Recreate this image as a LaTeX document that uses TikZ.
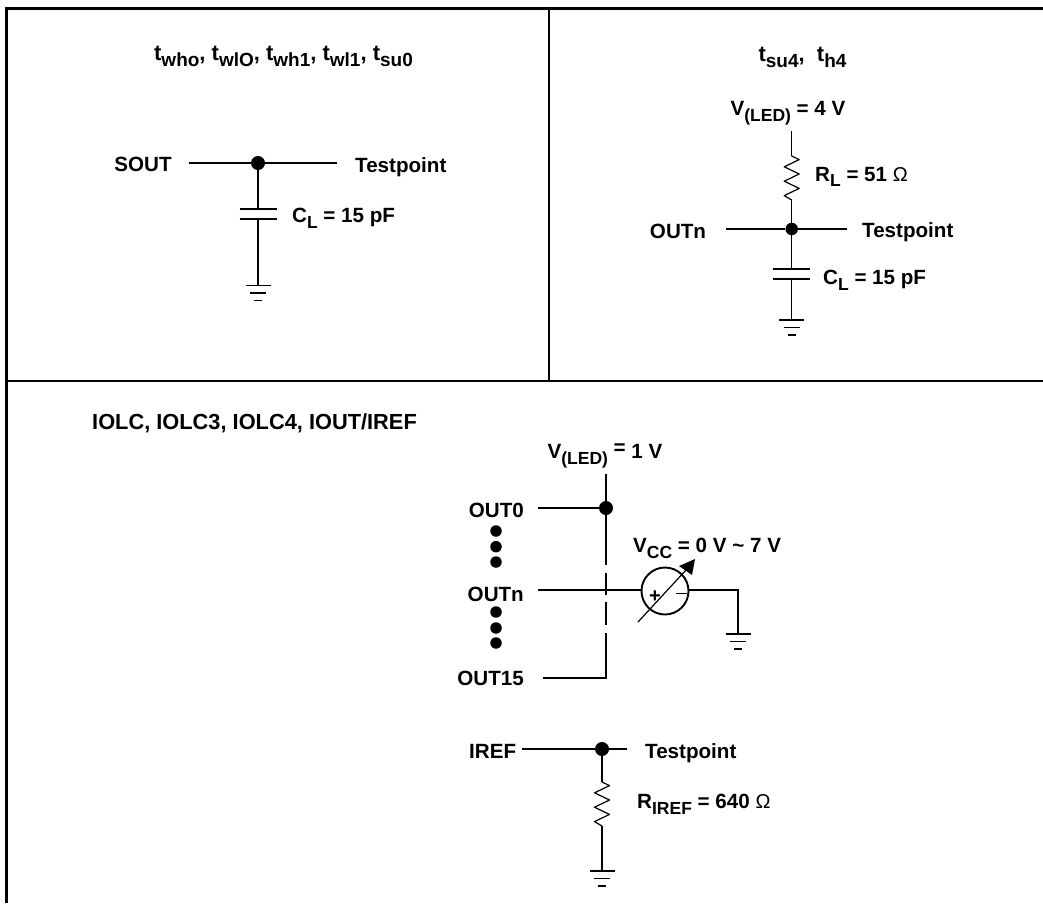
\documentclass[tikz,border=0pt]{standalone}
\usepackage{fontspec}
\setmainfont{Liberation Sans}[BoldFont=* Bold]
\newcommand{\sbx}[1]{\raisebox{-0.28em}{\fontsize{17.5}{18}\selectfont #1}}
\newcommand{\sby}[1]{\raisebox{-0.28em}{\fontsize{19}{20}\selectfont #1}}
\newcommand{\ohm}{{\mdseries\fontsize{20}{20}\selectfont Ω}}
\tikzset{
  x=1pt,y=-1pt,
  frameline/.style={line width=2.8pt,black},
  wire/.style={line width=1.2pt,black},
  lbl/.style={font=\fontsize{20.6}{22}\selectfont\bfseries,inner sep=0pt,text=black},
  ttl/.style={font=\fontsize{22}{24}\selectfont\bfseries,inner sep=0pt,text=black},
  dotnode/.style={circle,fill=black,inner sep=0pt,minimum size=14pt},
  smalldot/.style={circle,fill=black,inner sep=0pt,minimum size=11.5pt},
  vsource/.style={circle,draw=black,line width=1.9pt,fill=none,inner sep=0pt,minimum size=47pt},
  groundsym/.pic={
    \draw[line width=1.4pt] (-12.5,0) -- (12.5,0);
    \draw[line width=1.2pt] (-8,7.5) -- (8,7.5);
    \draw[line width=1.2pt] (-4,15) -- (4,15);
  },
  resistorsym/.pic={
    \draw[wire,line join=round] (0,0) -- (7.5,3.6) -- (-7.5,10.8) -- (7.5,18) -- (-7.5,25.2) -- (7.5,32.4) -- (-7.5,39.6) -- (0,44);
  },
}
\begin{document}
\begin{tikzpicture}
\useasboundingbox (0,0) rectangle (1043,903);
% frame
\coordinate (ftl) at (6.5,8.5);
\coordinate (ftr) at (1043,8.5);
\coordinate (fbl) at (6.5,903);
\coordinate (divt) at (549,8.5);
\coordinate (divb) at (549,381);
\coordinate (hl) at (6.5,381);
\coordinate (hr) at (1043,381);
\draw[frameline] (fbl) -- (ftl) -- (ftr);
\draw[frameline] (divt) -- (divb);
\draw[frameline] (hl) -- (hr);

% panel 1
\node[ttl] (t1) at (283.5,56) {t\sby{who}, t\sby{wlO}, t\sby{wh1}, t\sby{wl1}, t\sby{su0}};
\node[lbl,anchor=center] (sout) at (143,164.5) {SOUT};
\node[lbl,anchor=west] (tp1) at (355,167.5) {Testpoint};
\node[lbl,anchor=west] (cl1) at (292,218) {C\sbx{L} = 15 pF};
\node[dotnode] (j1) at (258,163) {};
\coordinate (s1) at (189,163);
\coordinate (e1) at (337,163);
\coordinate (c1a) at (258,209);
\coordinate (c1b) at (258,219);
\coordinate (g1) at (258,285.5);
\draw[wire] (s1) -- (j1) -- (e1);
\draw[wire] (j1) -- (c1a);
\draw[wire] (c1b) -- (g1);
\draw[line width=1.3pt] ([xshift=-18.5pt]c1a) -- ([xshift=18.5pt]c1a);
\draw[line width=1.3pt] ([xshift=-18.5pt]c1b) -- ([xshift=18.5pt]c1b);
\pic at (g1) {groundsym};

% panel 2
\node[ttl] (t2) at (802.5,57) {t\sby{su4},\ \ t\sby{h4}};
\node[lbl] (v2) at (788,113) {V\sbx{(LED)} = 4 V};
\node[lbl,anchor=west] (rl) at (815,177) {R\sbx{L} = 51 \ohm};
\node[lbl] (out2) at (678,231) {OUTn};
\node[lbl,anchor=west] (tp2) at (862,232.5) {Testpoint};
\node[lbl,anchor=west] (cl2) at (823,280) {C\sbx{L} = 15 pF};
\node[dotnode,minimum size=12.5pt] (j2) at (791.7,229) {};
\coordinate (top2) at (791.7,131);
\coordinate (r2a) at (791.7,156);
\coordinate (r2b) at (791.7,200);
\coordinate (s2) at (726,229);
\coordinate (e2) at (847,229);
\coordinate (c2a) at (791.7,269);
\coordinate (c2b) at (791.7,279);
\coordinate (g2) at (791.7,320);
\draw[wire] (top2) -- (r2a);
\pic at (r2a) {resistorsym};
\draw[wire] (r2b) -- (j2);
\draw[wire] (s2) -- (j2) -- (e2);
\draw[wire] (j2) -- (c2a);
\draw[wire] (c2b) -- (g2);
\draw[line width=1.3pt] ([xshift=-18.5pt]c2a) -- ([xshift=18.5pt]c2a);
\draw[line width=1.3pt] ([xshift=-18.5pt]c2b) -- ([xshift=18.5pt]c2b);
\pic at (g2) {groundsym};

% panel 3
\node[lbl,anchor=west] (t3) at (92,423.5) {\fontsize{21.8}{23}\selectfont IOLC, IOLC3, IOLC4, IOUT/IREF};
\node[lbl] (v3) at (605,456) {V\sbx{(LED)} \raisebox{0.2em}{=} 1 V};
\node[lbl,anchor=east] (o0) at (524,510) {OUT0};
\node[lbl,anchor=east] (on) at (524,594) {OUTn};
\node[lbl,anchor=east] (o15) at (524,678) {OUT15};
\node[lbl,anchor=west] (vcc) at (633,548) {V\sbx{CC} = 0 V \symbol{126} 7 V};
\foreach \n/\yy in {a/531,b/546.7,c/562,d/612,e/628,f/643}
  \node[smalldot] (b\n) at (496,\yy) {};
\node[dotnode] (j3) at (606,508) {};
\node[vsource] (src) at (665,591) {};
\coordinate (top3) at (606,474);
\coordinate (bot3) at (606,678);
\coordinate (s30) at (538,508);
\coordinate (s3n) at (538,590);
\coordinate (s315) at (543,678);
\coordinate (cg) at (738,590);
\coordinate (g3) at (738,634);
\coordinate (d1b) at (606,565);
\coordinate (d2a) at (606,573);
\coordinate (d2b) at (606,595);
\coordinate (d3a) at (606,602);
\coordinate (d3b) at (606,625);
\coordinate (d4a) at (606,632.5);
\draw[wire] (top3) -- (j3) -- (d1b);
\draw[wire] (s30) -- (j3);
\draw[wire] (s3n) -- (src.west |- s3n);
\draw[wire] (src.east |- s3n) -- (cg) -- (g3);
\draw[wire] (d2a) -- (d2b);
\draw[wire] (d3a) -- (d3b);
\draw[wire] (s315) -- (bot3) -- (d4a);
\pic at (g3) {groundsym};
\coordinate (arA) at (638,622);
\coordinate (arB) at (686,570);
\coordinate (arT) at (695,559);
\draw[line width=1.2pt] (arA) -- (arB);
\fill (arT) -- (679,566) -- (692,575) -- cycle;
\node[inner sep=0pt,font=\fontsize{20}{20}\selectfont\bfseries] (pl) at (655,597) {+};
\coordinate (m1) at (676,593.5); \coordinate (m2) at (687,593.5);
\draw[line width=1.3pt] (m1) -- (m2);

% IREF
\node[lbl,anchor=west] (iref) at (469,751) {IREF};
\node[lbl,anchor=west] (tp3) at (645,753) {Testpoint};
\node[lbl,anchor=west] (rir) at (637,804) {R\sbx{IREF} = 640 \ohm};
\node[dotnode] (j4) at (602,749) {};
\coordinate (s4) at (522,749);
\coordinate (e4) at (627,749);
\coordinate (r4a) at (602,782);
\coordinate (r4b) at (602,826);
\coordinate (g4) at (602,871);
\draw[wire] (s4) -- (j4) -- (e4);
\draw[wire] (j4) -- (r4a);
\pic at (r4a) {resistorsym};
\draw[wire] (r4b) -- (g4);
\pic at (g4) {groundsym};
\end{tikzpicture}
\end{document}
